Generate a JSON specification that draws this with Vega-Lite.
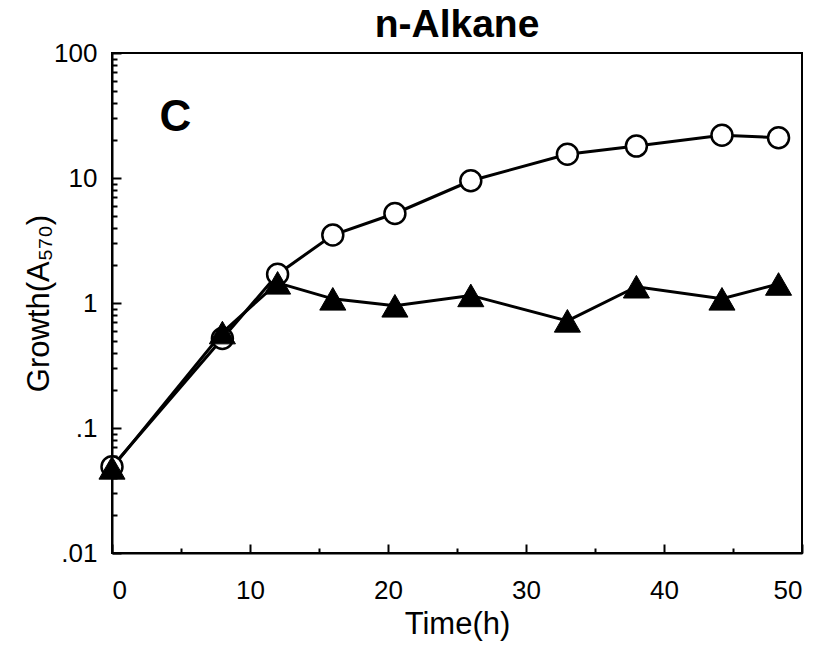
{
  "$schema": "https://vega.github.io/schema/vega-lite/v6.json",
  "width": 690,
  "height": 500,
  "autosize": {"type": "none"},
  "padding": {"left": 112, "top": 53, "right": 25, "bottom": 96},
  "background": "white",
  "config": {
    "view": {"stroke": "black", "strokeWidth": 2},
    "font": "Liberation Sans",
    "axis": {
      "grid": false,
      "domainColor": "black",
      "domainWidth": 2,
      "tickColor": "black",
      "tickWidth": 2,
      "labelColor": "black",
      "labelFont": "Liberation Sans",
      "labelFontSize": 26,
      "titleFont": "Liberation Sans",
      "titleFontSize": 31,
      "titleFontWeight": "normal",
      "titleColor": "black"
    }
  },
  "title": {
    "text": "n-Alkane",
    "font": "Liberation Sans",
    "fontSize": 39,
    "fontWeight": "bold",
    "color": "black",
    "offset": -5
  },
  "resolve": {"axis": {"x": "independent", "y": "independent"}},
  "datasets": {
    "growth": [
      {"series": "open", "time": 0, "growth": 0.049},
      {"series": "open", "time": 8, "growth": 0.52},
      {"series": "open", "time": 12, "growth": 1.7},
      {"series": "open", "time": 16, "growth": 3.5},
      {"series": "open", "time": 20.5, "growth": 5.2},
      {"series": "open", "time": 26, "growth": 9.5},
      {"series": "open", "time": 33, "growth": 15.5},
      {"series": "open", "time": 38, "growth": 18},
      {"series": "open", "time": 44.2, "growth": 22},
      {"series": "open", "time": 48.3, "growth": 21},
      {"series": "filled", "time": 0, "growth": 0.048},
      {"series": "filled", "time": 8, "growth": 0.58},
      {"series": "filled", "time": 12, "growth": 1.45},
      {"series": "filled", "time": 16, "growth": 1.08},
      {"series": "filled", "time": 20.5, "growth": 0.95},
      {"series": "filled", "time": 26, "growth": 1.15},
      {"series": "filled", "time": 33, "growth": 0.72},
      {"series": "filled", "time": 38, "growth": 1.35},
      {"series": "filled", "time": 44.2, "growth": 1.08},
      {"series": "filled", "time": 48.3, "growth": 1.42}
    ],
    "panel": [{"label": "C", "time": 4.6, "growth": 30}]
  },
  "layer": [
    {
      "data": {"name": "growth"},
      "transform": [{"filter": "datum.series === 'open'"}],
      "mark": {"type": "line", "color": "black", "strokeWidth": 3},
      "encoding": {
        "x": {
          "field": "time",
          "type": "quantitative",
          "scale": {"domain": [0, 50], "nice": false, "zero": false},
          "axis": {
            "orient": "bottom",
            "title": "Time(h)",
            "values": [0, 10, 20, 30, 40, 50],
            "ticks": false,
            "tickSize": 0,
            "labelPadding": 24,
            "titlePadding": 6
          }
        },
        "y": {
          "field": "growth",
          "type": "quantitative",
          "scale": {"type": "log", "domain": [0.01, 100], "nice": false},
          "axis": {
            "orient": "left",
            "title": "Growth(A₅₇₀)",
            "values": [0.01, 0.1, 1, 10, 100],
            "labelExpr": "datum.value === 0.01 ? '.01' : datum.value === 0.1 ? '.1' : datum.value === 1 ? '1' : datum.value === 10 ? '10' : '100'",
            "ticks": false,
            "tickSize": 0,
            "labelPadding": 15,
            "titlePadding": -2
          }
        }
      }
    },
    {
      "data": {"name": "growth"},
      "transform": [{"filter": "datum.series === 'filled'"}],
      "mark": {"type": "line", "color": "black", "strokeWidth": 3},
      "encoding": {
        "x": {
          "field": "time",
          "type": "quantitative",
          "axis": {
            "orient": "bottom",
            "title": null,
            "values": [0, 10, 20, 30, 40, 50],
            "labels": false,
            "domain": false,
            "tickSize": 9,
            "offset": -9
          }
        },
        "y": {
          "field": "growth",
          "type": "quantitative",
          "axis": {
            "orient": "left",
            "title": null,
            "values": [0.01, 0.1, 1, 10, 100],
            "labels": false,
            "domain": false,
            "tickSize": 9,
            "offset": -9
          }
        }
      }
    },
    {
      "data": {"name": "growth"},
      "transform": [{"filter": "datum.series === 'open'"}],
      "mark": {"type": "point", "shape": "circle", "size": 440, "filled": true, "fill": "white", "stroke": "black", "strokeWidth": 2.5, "opacity": 1},
      "encoding": {
        "x": {
          "field": "time",
          "type": "quantitative",
          "axis": {
            "orient": "bottom",
            "title": null,
            "values": [5, 15, 25, 35, 45],
            "labels": false,
            "domain": false,
            "tickSize": 5,
            "offset": -5
          }
        },
        "y": {
          "field": "growth",
          "type": "quantitative",
          "axis": {
            "orient": "left",
            "title": null,
            "values": [0.02, 0.03, 0.04, 0.05, 0.06, 0.07, 0.08, 0.09, 0.2, 0.3, 0.4, 0.5, 0.6, 0.7, 0.8, 0.9, 2, 3, 4, 5, 6, 7, 8, 9, 20, 30, 40, 50, 60, 70, 80, 90],
            "labels": false,
            "domain": false,
            "tickSize": 5,
            "offset": -5
          }
        }
      }
    },
    {
      "data": {"name": "growth"},
      "transform": [{"filter": "datum.series === 'filled'"}],
      "mark": {"type": "point", "shape": "triangle-up", "size": 680, "filled": true, "fill": "black", "stroke": "black", "strokeWidth": 1, "opacity": 1},
      "encoding": {
        "x": {"field": "time", "type": "quantitative", "axis": null},
        "y": {"field": "growth", "type": "quantitative", "axis": null}
      }
    },
    {
      "data": {"name": "panel"},
      "mark": {"type": "text", "font": "Liberation Sans", "fontSize": 44, "fontWeight": "bold", "color": "black", "align": "center", "baseline": "middle"},
      "encoding": {
        "x": {"field": "time", "type": "quantitative", "axis": null},
        "y": {"field": "growth", "type": "quantitative", "axis": null},
        "text": {"field": "label"}
      }
    }
  ]
}
